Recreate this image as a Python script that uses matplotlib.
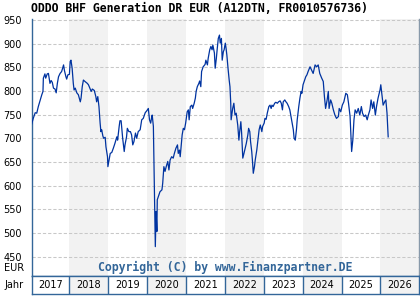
import matplotlib
matplotlib.use("Agg")
from matplotlib import pyplot as plt

jahr = [
    2017.03, 2017.07, 2017.12, 2017.16, 2017.20, 2017.25, 2017.29, 2017.32, 2017.33, 2017.37,
    2017.39, 2017.43, 2017.46, 2017.50, 2017.53, 2017.56, 2017.59, 2017.63, 2017.66, 2017.69,
    2017.72, 2017.76, 2017.80, 2017.85, 2017.87, 2017.91, 2017.93, 2017.96, 2018.00, 2018.02,
    2018.04, 2018.07, 2018.10, 2018.12, 2018.15, 2018.19, 2018.23, 2018.28, 2018.30, 2018.33,
    2018.36, 2018.40, 2018.46, 2018.49, 2018.51, 2018.56, 2018.59, 2018.64, 2018.68, 2018.70,
    2018.73, 2018.76, 2018.79, 2018.81, 2018.83, 2018.86, 2018.88, 2018.92, 2018.94, 2018.98,
    2018.99, 2019.02, 2019.05, 2019.09, 2019.13, 2019.17, 2019.22, 2019.24, 2019.28, 2019.30,
    2019.33, 2019.35, 2019.37, 2019.41, 2019.43, 2019.47, 2019.49, 2019.53, 2019.57, 2019.60,
    2019.63, 2019.66, 2019.70, 2019.73, 2019.77, 2019.82, 2019.86, 2019.90, 2019.95, 2019.99,
    2020.03, 2020.06, 2020.09, 2020.12, 2020.13, 2020.16, 2020.17, 2020.19, 2020.21, 2020.23,
    2020.25, 2020.26, 2020.30, 2020.33, 2020.38, 2020.40, 2020.43, 2020.46, 2020.49, 2020.53,
    2020.56, 2020.59, 2020.63, 2020.67, 2020.70, 2020.74, 2020.78, 2020.80, 2020.83, 2020.85,
    2020.88, 2020.90, 2020.93, 2020.96, 2020.99, 2021.03, 2021.06, 2021.08, 2021.11, 2021.15,
    2021.17, 2021.21, 2021.24, 2021.26, 2021.29, 2021.33, 2021.35, 2021.38, 2021.40, 2021.44,
    2021.49, 2021.51, 2021.55, 2021.57, 2021.61, 2021.64, 2021.67, 2021.69, 2021.73, 2021.75,
    2021.78, 2021.80, 2021.83, 2021.86, 2021.88, 2021.91, 2021.93, 2021.96, 2021.98, 2022.01,
    2022.03, 2022.05, 2022.08, 2022.11, 2022.13, 2022.15, 2022.16, 2022.20, 2022.23, 2022.26,
    2022.29, 2022.33, 2022.36, 2022.38, 2022.41, 2022.43, 2022.46, 2022.49, 2022.52, 2022.55,
    2022.59, 2022.61, 2022.64, 2022.66, 2022.69, 2022.71, 2022.73, 2022.76, 2022.78, 2022.82,
    2022.85, 2022.88, 2022.91, 2022.95, 2022.97, 2023.01, 2023.03, 2023.06, 2023.09, 2023.13,
    2023.16, 2023.19, 2023.21, 2023.24, 2023.28, 2023.31, 2023.35, 2023.38, 2023.42, 2023.45,
    2023.48, 2023.50, 2023.54, 2023.57, 2023.60, 2023.64, 2023.67, 2023.70, 2023.73, 2023.76,
    2023.78, 2023.81, 2023.84, 2023.86, 2023.90, 2023.93, 2023.96, 2023.98, 2024.01, 2024.04,
    2024.08, 2024.11, 2024.14, 2024.19, 2024.23, 2024.27, 2024.32, 2024.36, 2024.40, 2024.44,
    2024.49, 2024.53, 2024.56, 2024.59, 2024.63, 2024.66, 2024.68, 2024.72, 2024.75, 2024.79,
    2024.83, 2024.87, 2024.92, 2024.94, 2024.98, 2025.02, 2025.06, 2025.11, 2025.15, 2025.18,
    2025.22, 2025.24, 2025.26, 2025.29, 2025.32, 2025.35, 2025.39, 2025.43, 2025.47, 2025.51,
    2025.54, 2025.58, 2025.62, 2025.66, 2025.69, 2025.73, 2025.76, 2025.80, 2025.83, 2025.87,
    2025.90, 2025.94, 2025.99, 2026.01, 2026.04, 2026.07, 2026.11, 2026.14, 2026.17, 2026.19,
    2026.20,
]
kurs = [
    730, 742, 754, 753, 767, 781, 792, 799, 827, 836,
    827, 836, 837, 816, 822, 818, 806, 804, 796, 816,
    830, 837, 841, 855, 844, 830, 825, 834, 835, 862,
    865, 848, 816, 802, 806, 796, 792, 777, 785, 809,
    823, 820, 816, 813, 809, 799, 804, 801, 788, 777,
    788, 767, 732, 714, 718, 705, 700, 702, 682, 661,
    640, 654, 668, 670, 679, 689, 703, 696, 725, 737,
    737, 718, 700, 672, 686, 703, 721, 714, 714, 707,
    686, 693, 711, 700, 714, 718, 739, 742, 754, 758,
    763, 739, 732, 746, 749, 725, 672, 555, 471, 545,
    503, 570, 580, 587, 591, 605, 640, 630, 640, 651,
    633, 654, 661, 658, 668, 679, 686, 668, 675, 661,
    689, 707, 721, 718, 732, 756, 760, 739, 767, 770,
    763, 774, 785, 799, 809, 816, 821, 809, 841, 851,
    856, 865, 855, 869, 887, 894, 887, 897, 880, 848,
    869, 887, 911, 918, 901, 911, 865, 883, 887, 901,
    890, 876, 848, 823, 809, 774, 739, 763, 774, 749,
    753, 728, 696, 714, 735, 711, 658, 668, 679, 689,
    707, 721, 714, 693, 672, 651, 626, 640, 654, 675,
    696, 718, 728, 714, 725, 732, 742, 740, 753, 767,
    770, 763, 770, 767, 774, 776, 774, 777, 779, 774,
    760, 777, 781, 777, 774, 767, 760, 746, 732, 718,
    700, 696, 718, 739, 767, 785, 799, 795, 813, 820,
    830, 834, 841, 851, 844, 837, 855, 851, 855, 837,
    827, 820, 788, 763, 781, 799, 763, 781, 774, 760,
    749, 742, 746, 763, 756, 770, 777, 795, 792, 774,
    746, 711, 672, 696, 739, 760, 753, 763, 749, 767,
    753, 746, 749, 739, 749, 760, 781, 763, 777, 749,
    767, 785, 802, 813, 792, 770, 777, 781, 753, 718,
    703,
]

jahre = list(range(2017, 2027))
y_ticks = list(range(450, 951, 50))

blau = "#336699"
linie = "#0033a0"
grau = "#f2f2f2"

fig = plt.figure(figsize=(4.2, 3.0), dpi=100)
ax = fig.add_axes([31.7 / 420, 24.5 / 300, 386.8 / 420, 256.5 / 300])
ax_row = fig.add_axes([31.7 / 420, 6 / 300, 386.8 / 420, 18.5 / 300], sharex=ax)

x0, x1 = 2017.03, 2026.98

# abwechselnd graue Jahre
for j in jahre:
    if j % 2 == 0:
        ax.axvspan(j, j + 1, color=grau, lw=0, zorder=0)
        ax_row.axvspan(j, j + 1, color=grau, lw=0, zorder=0)

ax.plot(jahr, kurs, color=linie, lw=0.9, zorder=3)

ax.set_xlim(x0, x1)
ax.set_ylim(410, 952)
ax.set_yticks(y_ticks)
ax.set_yticklabels([str(v) for v in y_ticks], fontsize=7)
ax.set_xticks([])
ax.grid(axis="y", color="#c8c8c8", lw=0.75, linestyle=(0, (3.1, 1.9)))
ax.set_axisbelow(True)
ax.tick_params(axis="y", length=0, pad=7)
ax.spines["top"].set_visible(False)
for s in ["left", "bottom", "right"]:
    ax.spines[s].set_color(blau)
    ax.spines[s].set_linewidth(1.0)
ax.spines["right"].set_color("#8899aa")

ax.text(0.5, 0.03, "Copyright (C) by www.Finanzpartner.DE", transform=ax.transAxes,
        ha="center", va="center", fontsize=8.3, fontweight="bold",
        family="DejaVu Sans Mono", color=blau, zorder=4)

# Jahreszeile
for j in jahre:
    if j > x0:
        ax_row.axvline(j, color=blau, lw=1.0)
    ax_row.text(max(j, x0) / 2 + min(j + 1, x1) / 2, 0.5, str(j), transform=ax_row.get_xaxis_transform(),
                ha="center", va="center", fontsize=7)
ax_row.set_ylim(0, 1)
ax_row.set_yticks([])
ax_row.tick_params(axis="x", bottom=False, labelbottom=False)
for s in ax_row.spines.values():
    s.set_color(blau)
    s.set_linewidth(1.0)

fig.text(31 / 420, 1 - 9 / 300, "ODDO BHF Generation DR EUR (A12DTN, FR0010576736)",
         ha="left", va="center", fontsize=8.3, fontweight="bold", family="DejaVu Sans Mono")
fig.text(24 / 420, 1 - 268 / 300, "EUR", ha="right", va="center", fontsize=7)
fig.text(24 / 420, 1 - 284.5 / 300, "Jahr", ha="right", va="center", fontsize=7)

fig.savefig("out.png", dpi=100)
